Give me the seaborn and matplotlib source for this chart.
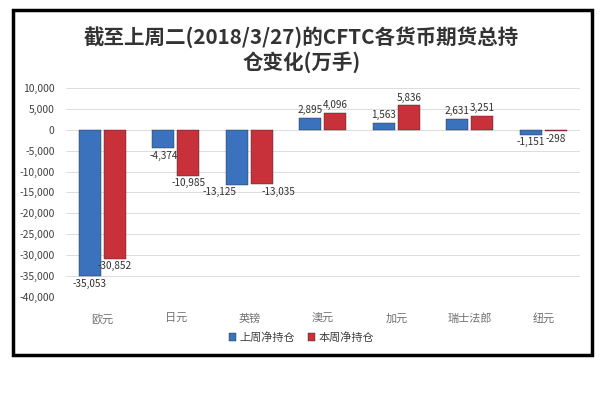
import matplotlib
matplotlib.use("Agg")
import matplotlib.pyplot as plt
from matplotlib.patches import Rectangle
import pandas as pd
import seaborn as sns

# ── Data ─────────────────────────────────────────────────────────────────────
currencies = ["欧元", "日元", "英镑", "澳元", "加元", "瑞士法郎", "纽元"]
last_week = [-35053, -4374, -13125, 2895, 1563, 2631, -1151]
this_week = [-30852, -10985, -13035, 4096, 5836, 3251, -298]
series_names = ["上周净持仓", "本周净持仓"]
y_ticks = [10000, 5000, 0, -5000, -10000, -15000, -20000,
           -25000, -30000, -35000, -40000]

df = pd.DataFrame({
    "货币": currencies * 2,
    "持仓": last_week + this_week,
    "系列": [series_names[0]] * len(currencies) + [series_names[1]] * len(currencies),
})

sns.set_theme(style="white")
plt.rcParams["font.family"] = ["Noto Sans CJK SC", "DejaVu Sans"]

fig = plt.figure(figsize=(6.03, 3.98), dpi=100)
ax = fig.add_axes([0.109, 0.254, 0.853, 0.525])

palette = {series_names[0]: "#3A72BD", series_names[1]: "#C8303A"}
sns.barplot(data=df, x="货币", y="持仓", hue="系列", palette=palette,
            saturation=1, width=0.68, gap=0.12, edgecolor="#2a2a2a",
            linewidth=0.3, ax=ax, legend=True)

ax.set_ylim(-40000, 10000)
ax.set_yticks(y_ticks)
ax.set_yticklabels([f"{v:,}" for v in y_ticks])
ax.yaxis.grid(True, color="#dcdcdc", linewidth=0.7)
ax.set_axisbelow(True)
for s in ax.spines.values():
    s.set_visible(False)
ax.set_xlabel("")
ax.set_ylabel("")
ax.tick_params(axis="y", labelsize=7.5, colors="#404040", pad=2)
ax.tick_params(axis="x", labelsize=8, colors="#707070", pad=6)

for cont, vals, ha in zip(ax.containers, [last_week, this_week], ["right", "left"]):
    texts = ax.bar_label(cont, labels=[f"{v:,}" for v in vals], padding=2,
                         fontsize=7.2, color="#303030")
    # the two 英镑 labels sit side by side; push them apart a little
    texts[currencies.index("英镑")].set_ha(ha)

ax.legend(loc="center", bbox_to_anchor=(0.5, 0.152), bbox_transform=fig.transFigure,
          ncol=2, frameon=False, fontsize=8, handlelength=0.6, handleheight=0.6,
          handletextpad=0.3, columnspacing=1.2, labelcolor="#404040")

fig.text(0.5, 0.908, "截至上周二(2018/3/27)的CFTC各货币期货总持",
         ha="center", va="center", fontsize=14.8, fontweight="bold", color="#333333")
fig.text(0.5, 0.843, "仓变化(万手)",
         ha="center", va="center", fontsize=14.8, fontweight="bold", color="#333333")

fig.add_artist(Rectangle((0.021, 0.108), 0.960, 0.866, transform=fig.transFigure,
                         fill=False, edgecolor="black", linewidth=2.5))

fig.savefig("out.png", dpi=100)
